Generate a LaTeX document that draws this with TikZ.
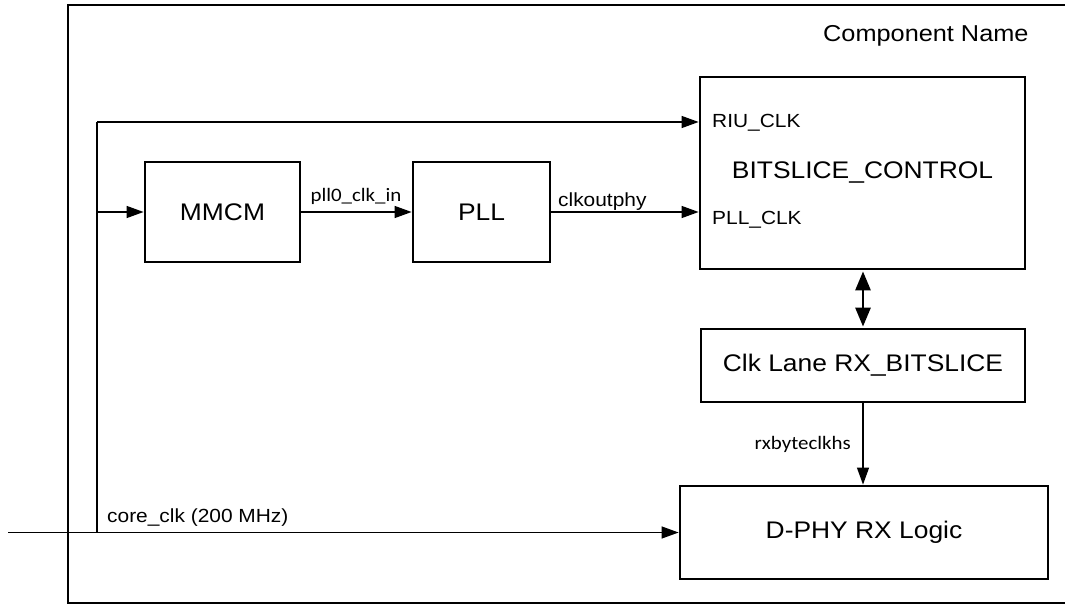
\documentclass[tikz,border=0pt]{standalone}
\usepackage{fontspec}
\setmainfont[FakeStretch=1.1]{Liberation Sans}
\newfontfamily\calfont[FakeStretch=1.1]{Carlito}
\usetikzlibrary{arrows.meta}
\tikzset{
  blk/.style={draw, line width=2.8pt, inner sep=0pt, font=\fontsize{24}{28}\selectfont},
  conn/.style={line width=1.3pt},
  arr/.style={conn, -{Triangle[length=17pt,width=12pt]}},
  dbl/.style={line width=2.8pt, {Triangle[length=19pt,width=15pt]}-{Triangle[length=19pt,width=15pt]}, shorten <=1pt, shorten >=1pt},
  lbl/.style={inner sep=0pt, font=\fontsize{19}{22}\selectfont},
  clbl/.style={inner sep=0pt, font=\calfont\fontsize{19}{22}\selectfont},
  frame/.style={line width=2.2pt}
}
\begin{document}
\begin{tikzpicture}[x=1pt,y=-1pt]
\useasboundingbox (0,0) rectangle (1065,604);
\clip (0,0) rectangle (1065,604);
% frame
\draw[frame] (1090,5) -- (68,5) -- (68,603) -- (1090,603);
\node[lbl, anchor=base west, font=\fontsize{23}{27}\selectfont] (cname) at (823,42) {Component Name};
% blocks
\node[blk, minimum width=155pt, minimum height=100pt] (mmcm) at (222.5,212) {MMCM};
\node[blk, minimum width=137pt, minimum height=100pt] (pll) at (481.5,212) {PLL};
\node[blk, minimum width=325pt, minimum height=192pt] (bc) at (862.5,173) {BITSLICE\_CONTROL};
\node[blk, minimum width=324pt, minimum height=73pt] (cl) at (863,365.5) {Clk Lane RX\_BITSLICE};
\node[blk, minimum width=368pt, minimum height=93pt] (dphy) at (864,532.5) {D-PHY RX Logic};
% port labels
\node[lbl, anchor=base west] (riu) at (712,128) {RIU\_CLK};
\node[lbl, anchor=base west] (pllclk) at (712,225) {PLL\_CLK};
% coordinates
\coordinate (in) at (8,532.5);
\coordinate (br) at (97,532.5);
\coordinate (top) at (97,122);
% connectors
\draw[arr] (in) -- (dphy.west);
\draw[conn] (br) -- (top);
\draw[arr] (top) -- (top -| bc.west);
\draw[arr] (br |- mmcm.west) -- (mmcm.west);
\draw[arr] (mmcm.east) -- (pll.west);
\draw[arr] (pll.east) -- (pll.east -| bc.west);
\draw[dbl] (bc.south -| cl.north) -- (cl.north);
\draw[arr] (cl.south) -- (cl.south |- dphy.north);
% connector labels
\node[clbl, anchor=base] (l1) at (356,201) {pll0\_clk\_in};
\node[lbl, anchor=base west] (l2) at (558,207) {clkoutphy};
\node[clbl, anchor=base east] (l3) at (851,449) {rxbyteclkhs};
\node[lbl, anchor=base west] (l4) at (107,522) {core\_clk (200 MHz)};
\end{tikzpicture}
\end{document}
